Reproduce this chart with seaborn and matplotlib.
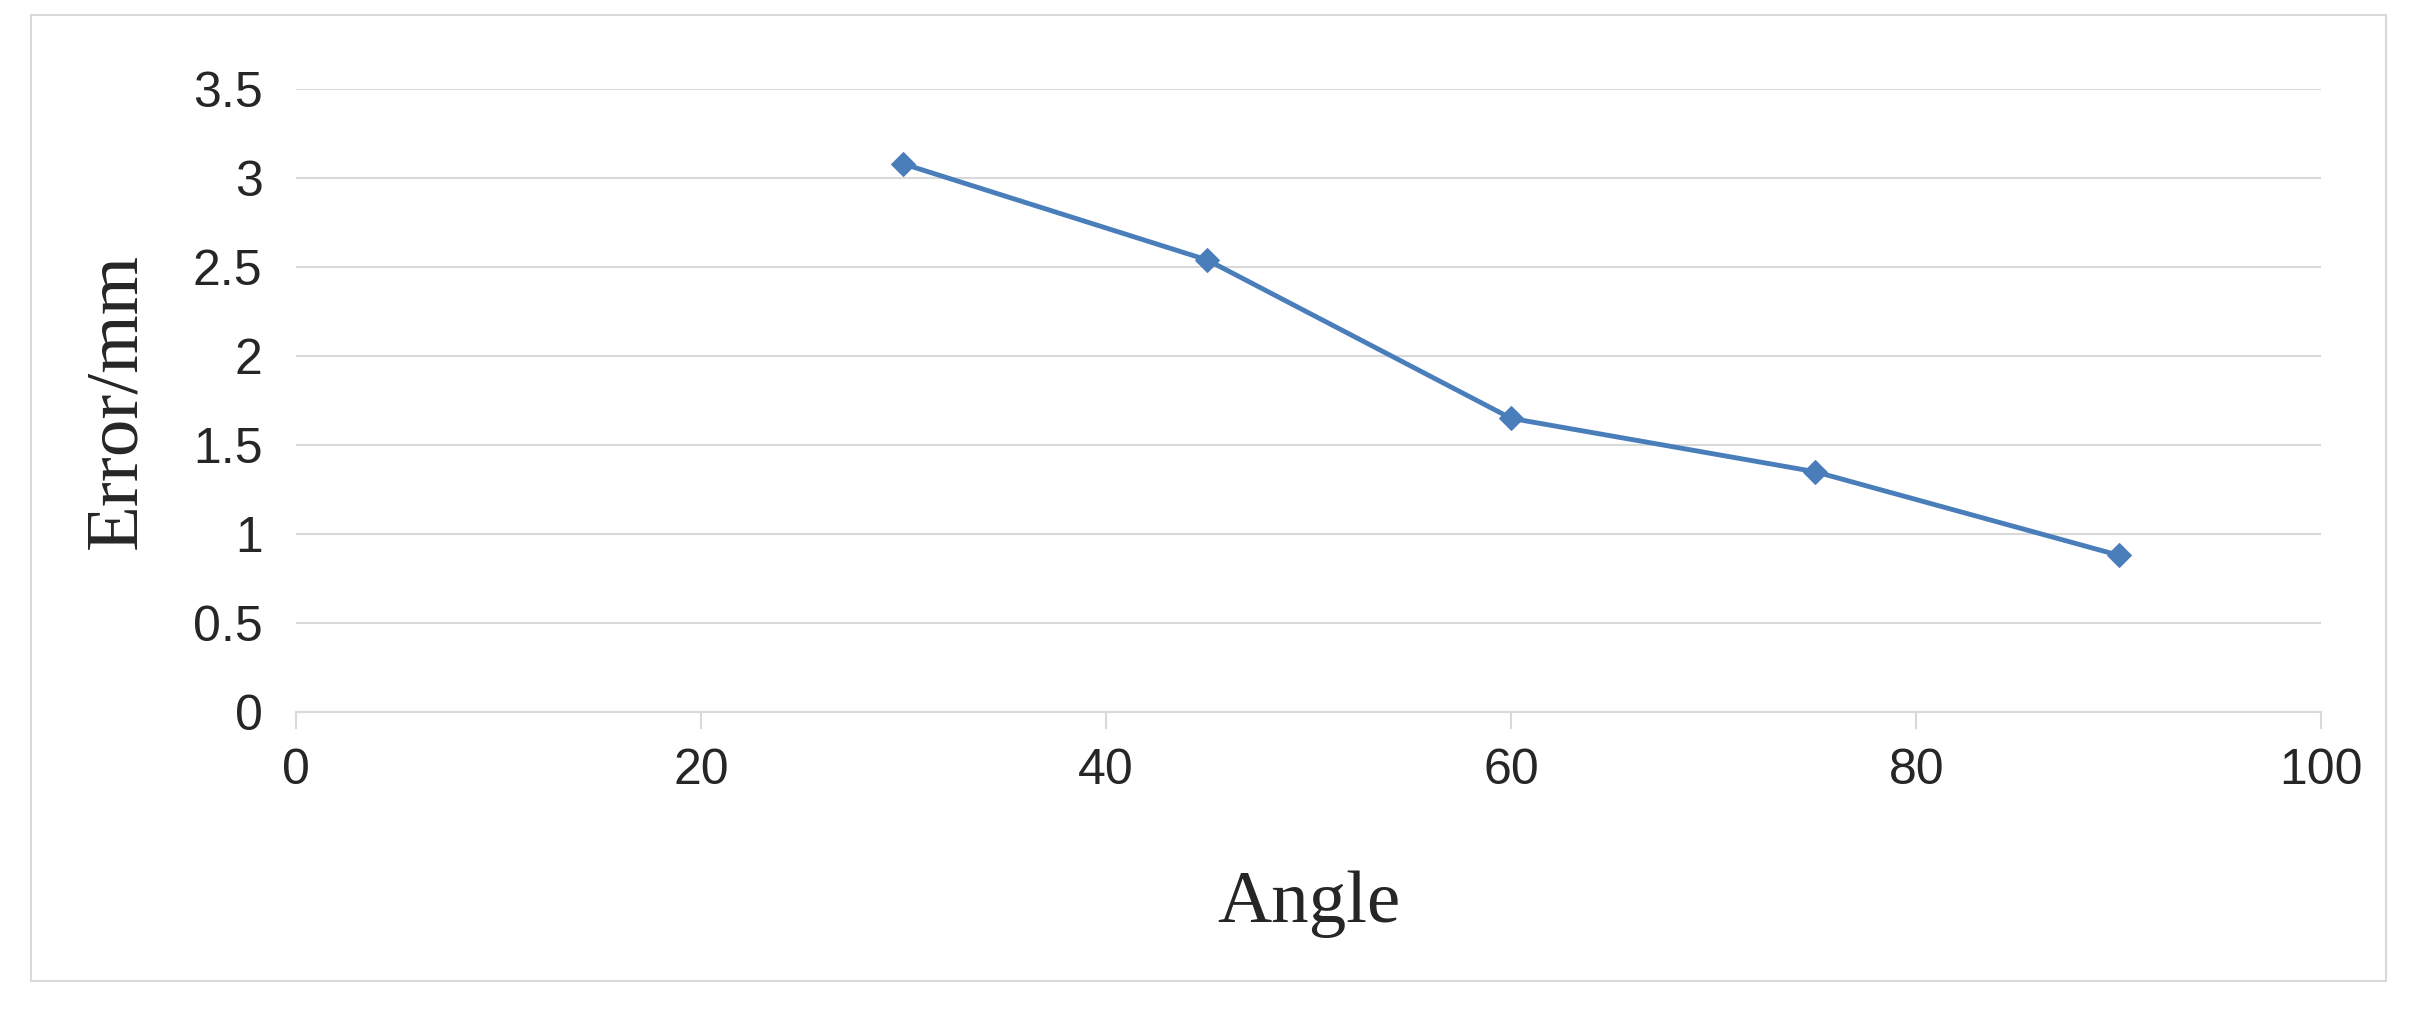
import matplotlib
matplotlib.use("Agg")
import pandas as pd
import seaborn as sns
from matplotlib import pyplot as plt
from matplotlib.patches import Rectangle

angle = [30, 45, 60, 75, 90]
error = [3.08, 2.54, 1.65, 1.35, 0.88]
df = pd.DataFrame({"Angle": angle, "Error": error})

sns.set_style("white")
plt.rcParams['font.family'] = ['Liberation Sans', 'DejaVu Sans']

fig = plt.figure(figsize=(24.17, 10.14), dpi=100)
ax = fig.add_axes([0.1224, 0.298, 0.838, 0.614])

sns.lineplot(data=df, x="Angle", y="Error", ax=ax, color="#4A7EBB", lw=3.5,
             marker="D", markersize=12, markeredgecolor="#4A7EBB")

ax.set_xlim(0, 100)
ax.set_ylim(0, 3.5)
ax.set_xticks(range(0, 101, 20))
ax.set_yticks([0, 0.5, 1, 1.5, 2, 2.5, 3, 3.5])
ax.set_yticklabels(["0", "0.5", "1", "1.5", "2", "2.5", "3", "3.5"])
ax.yaxis.grid(True, color="#D9D9D9", lw=1.5)
for s in ["top", "right", "left"]:
    ax.spines[s].set_visible(False)
ax.spines["bottom"].set_color("#D9D9D9")
ax.spines["bottom"].set_linewidth(1.5)
ax.tick_params(axis="x", bottom=True, direction="out", length=12, width=1.5,
               color="#D9D9D9", labelsize=36, pad=14)
ax.tick_params(axis="y", length=0, labelsize=36, pad=24)
ax.set_xlabel("Angle", family="Liberation Serif", fontsize=54, labelpad=55)
ax.set_ylabel("Error/mm", family="Liberation Serif", fontsize=54, labelpad=30)

fig.patches.append(Rectangle((0.013, 0.033), 0.974, 0.952, transform=fig.transFigure,
                             fill=False, edgecolor="#D9D9D9", lw=1.5))

plt.savefig("out.png", dpi=100)
